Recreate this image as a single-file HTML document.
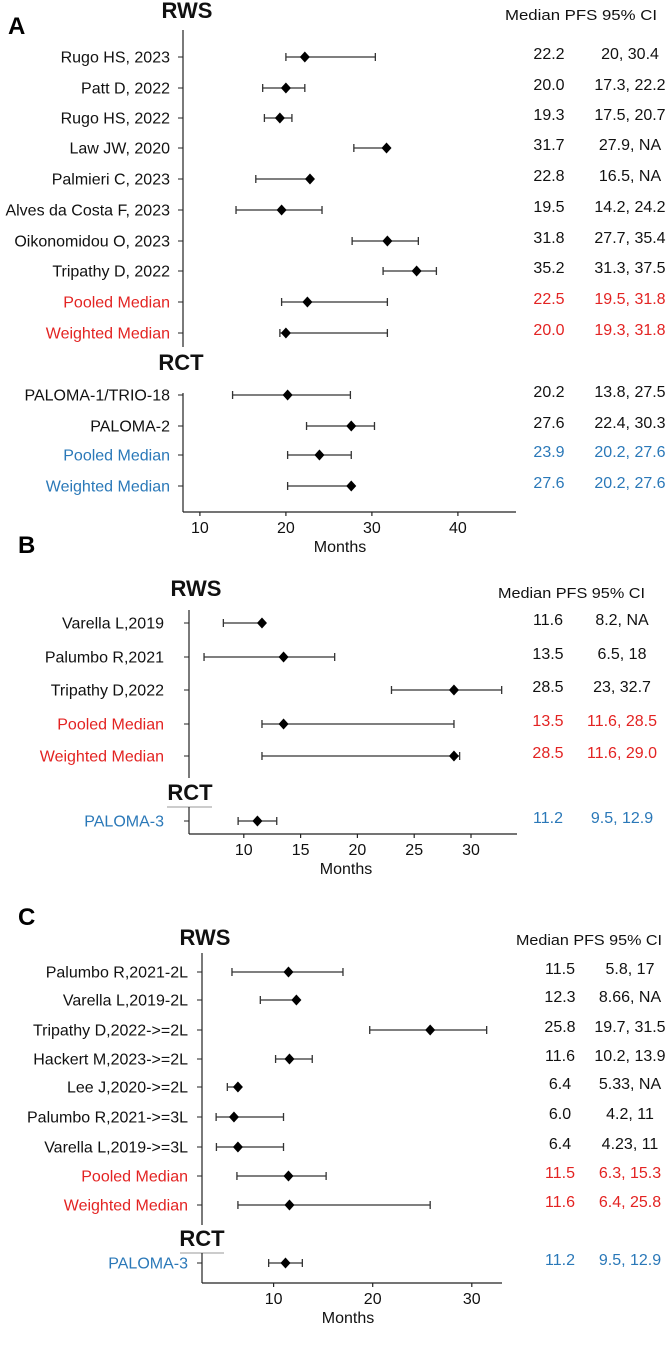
<!DOCTYPE html>
<html><head><meta charset="utf-8"><style>
html,body{margin:0;padding:0;background:#fff;}
svg{display:block;font-family:"Liberation Sans",Arial,sans-serif;}
</style></head><body>
<svg id="chart" width="670" height="1350" viewBox="0 0 670 1350" xmlns="http://www.w3.org/2000/svg">
<text x="8" y="34" font-size="24" font-weight="bold">A</text>
<text x="18" y="553" font-size="24" font-weight="bold">B</text>
<text x="18" y="925" font-size="24" font-weight="bold">C</text>
</svg>
<script>
// Panel A data
const aLabels = ["Rugo HS, 2023","Patt D, 2022","Rugo HS, 2022","Law JW, 2020","Palmieri C, 2023","Alves da Costa F, 2023","Oikonomidou O, 2023","Tripathy D, 2022","Pooled Median","Weighted Median","PALOMA-1/TRIO-18","PALOMA-2","Pooled Median","Weighted Median"];
const aMedian = [22.2,20.0,19.3,31.7,22.8,19.5,31.8,35.2,22.5,20.0,20.2,27.6,23.9,27.6];
const aLow = [20,17.3,17.5,27.9,16.5,14.2,27.7,31.3,19.5,19.3,13.8,22.4,20.2,20.2];
const aHigh = [30.4,22.2,20.7,null,null,24.2,35.4,37.5,31.8,31.8,27.5,30.3,27.6,27.6];
const aCI = ["20, 30.4","17.3, 22.2","17.5, 20.7","27.9, NA","16.5, NA","14.2, 24.2","27.7, 35.4","31.3, 37.5","19.5, 31.8","19.3, 31.8","13.8, 27.5","22.4, 30.3","20.2, 27.6","20.2, 27.6"];
const aColor = ["k","k","k","k","k","k","k","k","r","r","k","k","b","b"];
const aTicks = [10,20,30,40];
// Panel B data
const bLabels = ["Varella L,2019","Palumbo R,2021","Tripathy D,2022","Pooled Median","Weighted Median","PALOMA-3"];
const bMedian = [11.6,13.5,28.5,13.5,28.5,11.2];
const bLow = [8.2,6.5,23,11.6,11.6,9.5];
const bHigh = [null,18,32.7,28.5,29.0,12.9];
const bCI = ["8.2, NA","6.5, 18","23, 32.7","11.6, 28.5","11.6, 29.0","9.5, 12.9"];
const bColor = ["k","k","k","r","r","b"];
const bTicks = [10,15,20,25,30];
// Panel C data
const cLabels = ["Palumbo R,2021-2L","Varella L,2019-2L","Tripathy D,2022->=2L","Hackert M,2023->=2L","Lee J,2020->=2L","Palumbo R,2021->=3L","Varella L,2019->=3L","Pooled Median","Weighted Median","PALOMA-3"];
const cMedian = [11.5,12.3,25.8,11.6,6.4,6.0,6.4,11.5,11.6,11.2];
const cLow = [5.8,8.66,19.7,10.2,5.33,4.2,4.23,6.3,6.4,9.5];
const cHigh = [17,null,31.5,13.9,null,11,11,15.3,25.8,12.9];
const cCI = ["5.8, 17","8.66, NA","19.7, 31.5","10.2, 13.9","5.33, NA","4.2, 11","4.23, 11","6.3, 15.3","6.4, 25.8","9.5, 12.9"];
const cColor = ["k","k","k","k","k","k","k","r","r","b"];
const cTicks = [10,20,30];

const svg = document.getElementById('chart');
const NS = "http://www.w3.org/2000/svg";
const COL = {k:"#111", r:"#e32322", b:"#2a78b8"};
function mk(tag, attrs, parent){ const e=document.createElementNS(NS,tag); for(const k in attrs) e.setAttribute(k,attrs[k]); (parent||svg).appendChild(e); return e; }

function panel(cfg){
  const g = mk('g',{});
  
  
  const xs = v => cfg.x0 + (v - cfg.v0) * cfg.k;
  cfg.titles.forEach(t=>{
    const e = mk('text',{x:t.x,y:t.y,'font-size':22,'font-weight':'bold','text-anchor':'middle',fill:'#111'},g);
    e.textContent = t.text;
    
    
    if(t.line){ const l = mk('line',{x1:t.line[0],x2:t.line[1],y1:t.line[2],y2:t.line[2],stroke:'#bbb','stroke-width':1.5},g);
      
       }
  });
  const h = mk('text',{x:cfg.hdr[0],y:cfg.hdr[1],'font-size':15,fill:'#111',textLength:cfg.hdr[2],lengthAdjust:'spacingAndGlyphs'},g);
  h.textContent = "Median PFS 95% CI";
  
  
  cfg.ysegs.forEach((s,i)=>{
    const l = mk('line',{x1:cfg.ax,x2:cfg.ax,y1:s[0],y2:s[1],stroke:'#222','stroke-width':1.2},g);
    
    
  });
  const xa = mk('line',{x1:cfg.ax,x2:cfg.axEnd,y1:cfg.by,y2:cfg.by,stroke:'#222','stroke-width':1.2},g);
  
  
  cfg.ticks.forEach(t=>{
    const x = xs(t);
    const tl = mk('line',{x1:x,x2:x,y1:cfg.by,y2:cfg.by+4,stroke:'#222','stroke-width':1.2},g);
    
    
    const tt = mk('text',{x:x,y:cfg.by+21,'font-size':16,'text-anchor':'middle',fill:'#111'},g);
    tt.textContent = t;
    
    
  });
  const mt = mk('text',{x:cfg.monthsX,y:cfg.by+40,'font-size':16,'text-anchor':'middle',fill:'#111'},g);
  mt.textContent = "Months";
  
  
  cfg.labels.forEach((lab,i)=>{
    const y = cfg.rows[i];
    const c = COL[cfg.color[i]];
    const tk = mk('line',{x1:cfg.ax-5,x2:cfg.ax,y1:y,y2:y,stroke:'#222','stroke-width':1},g);
    
    
    const lt = mk('text',{x:cfg.labX,y:y+5.5,'font-size':16,'text-anchor':'end',fill:c},g);
    lt.textContent = lab;
    
    
    const lo = xs(cfg.low[i]);
    const hi = cfg.high[i]==null ? xs(cfg.median[i]) : xs(cfg.high[i]);
    const ci = mk('path',{d:`M${lo},${y}H${hi}M${lo},${y-4}V${y+4}`+(cfg.high[i]==null?'':`M${hi},${y-4}V${y+4}`),stroke:'#333','stroke-width':1.3,fill:'none'},g);
    
    
    const m = xs(cfg.median[i]);
    const d = mk('path',{d:`M${m},${y-5.5}L${m+5},${y}L${m},${y+5.5}L${m-5},${y}Z`,fill:'#000'},g);
    
    
    const vt = mk('text',{x:cfg.medX,y:y+2,'font-size':16,'text-anchor':'middle',fill:c},g);
    vt.textContent = cfg.median[i].toFixed(1);
    
    
    const ct = mk('text',{x:cfg.ciX,y:y+2,'font-size':16,'text-anchor':'middle',fill:c},g);
    ct.textContent = cfg.ci[i];
    
    
  });
}

panel({key:'a', labels:aLabels, median:aMedian, low:aLow, high:aHigh, ci:aCI, color:aColor, ticks:aTicks,
  rows:[57,88,118,148,179,210,241,271,302,333,395,426,455,486],
  x0:199.9, v0:10, k:8.6, ax:183, axEnd:516, by:512, ysegs:[[30,347],[393,512]],
  labX:170, medX:549, ciX:630, monthsX:340, hdr:[505,20,152],
  titles:[{text:'RWS',x:187,y:18},{text:'RCT',x:181,y:370}]});
panel({key:'b', labels:bLabels, median:bMedian, low:bLow, high:bHigh, ci:bCI, color:bColor, ticks:bTicks,
  rows:[623,657,690,724,756,821],
  x0:243.8, v0:10, k:11.36, ax:189, axEnd:517, by:834, ysegs:[[610,778],[807,834]],
  labX:164, medX:548, ciX:622, monthsX:346, hdr:[498,598,147],
  titles:[{text:'RWS',x:196,y:596},{text:'RCT',x:190,y:800,line:[167,212,807]}]});
panel({key:'c', labels:cLabels, median:cMedian, low:cLow, high:cHigh, ci:cCI, color:cColor, ticks:cTicks,
  rows:[972,1000,1030,1059,1087,1117,1147,1176,1205,1263],
  x0:273.6, v0:10, k:9.91, ax:202, axEnd:502, by:1283, ysegs:[[953,1225],[1253,1283]],
  labX:188, medX:560, ciX:630, monthsX:348, hdr:[516,945,146],
  titles:[{text:'RWS',x:205,y:945},{text:'RCT',x:202,y:1246,line:[180,224,1253]}]});
</script>
</body></html>
